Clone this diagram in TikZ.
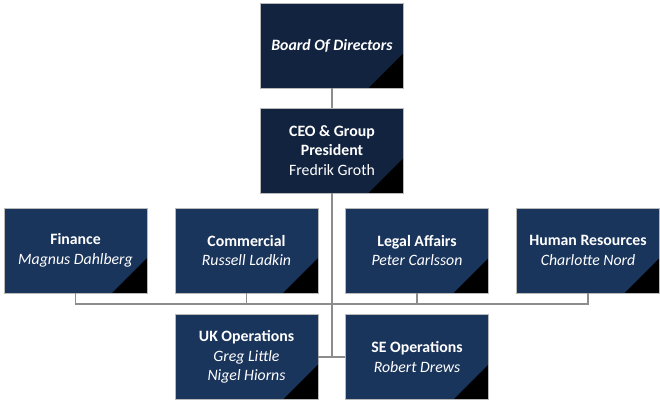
\documentclass[tikz,border=0pt]{standalone}
\usepackage{fontspec}
\setmainfont{Carlito}
\usetikzlibrary{positioning}

\definecolor{navy}{HTML}{12233F}
\definecolor{unitblue}{HTML}{1A355C}
\definecolor{linegray}{HTML}{8C8C8C}

\begin{document}
\begin{tikzpicture}[
  x=1pt, y=-1pt,
  post/.style={
    draw=gray!55, line width=0.8pt, fill=unitblue,
    minimum width=143pt, minimum height=85pt,
    text=white, align=center, inner sep=2pt,
    font=\fontsize{15.8pt}{19.5pt}\selectfont,
    path picture={
      \fill[black] (path picture bounding box.south east)
        -- ++(-35pt,0pt) -- ++(35pt,35pt) -- cycle;
    },
  },
  top post/.style={post, fill=navy},
  link/.style={draw=linegray, line width=1.1pt}]
  \useasboundingbox (0,0) rectangle (660,401);
  % top of the tree
  \node[top post] (board) at (332,45.5) {\textbf{\textit{Board Of Directors}}};
  \node[top post] (ceo) at (332,150.5)
    {\textbf{CEO \& Group}\\\textbf{President}\\Fredrik Groth};
  % departments
  \node[post] (finance) at (75.5,250.5) {\textbf{Finance}\\\textit{Magnus Dahlberg}};
  \node[post] (commercial) at (246.5,250.5) {\textbf{Commercial}\\\textit{Russell Ladkin}};
  \node[post] (legal) at (417,250.5) {\textbf{Legal Affairs}\\\textit{Peter Carlsson}};
  \node[post] (hr) at (588,250.5) {\textbf{Human Resources}\\\textit{Charlotte Nord}};
  % operations
  \node[post] (uk) at (246.5,357) {\textbf{UK Operations}\\\textit{Greg Little}\\\textit{Nigel Hiorns}};
  \node[post] (se) at (417,357) {\textbf{SE Operations}\\\textit{Robert Drews}};
  \coordinate (bus) at (332,304);
  % \coordinate (hub) at (332,357);
  \draw[link] (board) -- (ceo);
  \draw[link] (finance.south) |- (bus) -| (hr.south);
  \draw[link] (commercial.south) |- (bus);
  \draw[link] (legal.south) |- (bus);
  \draw[link] (ceo.south) |- (uk.east);
  \draw[link] (ceo.south) |- (se.west);
\end{tikzpicture}
\end{document}
